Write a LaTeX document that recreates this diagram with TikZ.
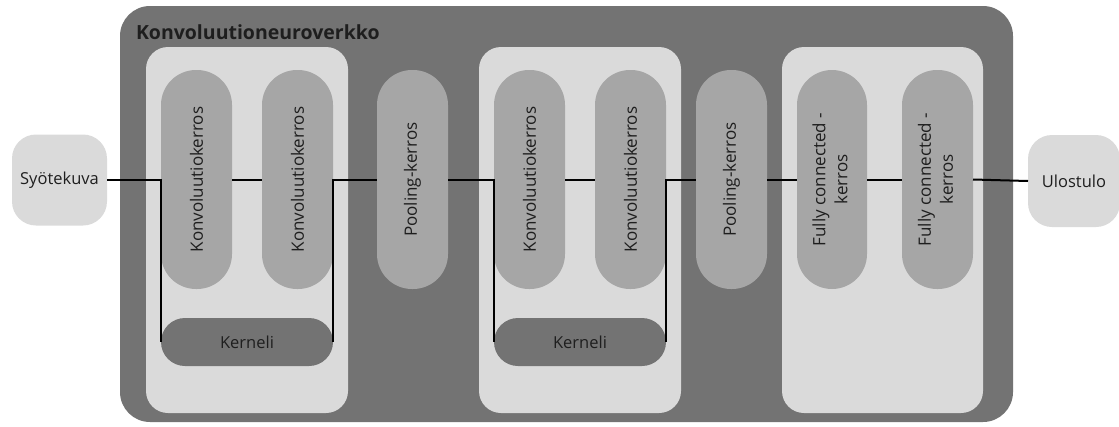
\documentclass[tikz,border=0pt]{standalone}
\usepackage{fontspec}
\setmainfont{Open Sans}
\begin{document}
\begin{tikzpicture}[x=1pt,y=-1pt,
  every node/.style={inner sep=0pt, outer sep=0pt, text=txt},
  layer/.style={fill=midgray, minimum width=71pt, minimum height=219pt,
    rounded corners=35pt, font=\fontsize{17}{22}\selectfont},
  kernbox/.style={fill=darkgray, minimum width=172pt, minimum height=48pt,
    rounded corners=24pt, font=\fontsize{16.5}{20}\selectfont},
  group/.style={fill=lightgray, minimum width=202pt, minimum height=366pt,
    rounded corners=22pt},
  endbox/.style={fill=lightgray, rounded corners=24pt,
    font=\fontsize{16.5}{20}\selectfont},
  link/.style={draw=black, line width=2pt}]
\definecolor{darkgray}{HTML}{737373}
\definecolor{lightgray}{HTML}{DADADA}
\definecolor{midgray}{HTML}{A6A6A6}
\definecolor{txt}{HTML}{1E1E1E}
\useasboundingbox (0,0) rectangle (1119,426);
% outer frame of the network
\fill[darkgray, rounded corners=30pt] (120,6) rectangle (1013,422);
\node[anchor=west, font=\fontsize{19.5}{22}\bfseries] (title) at (136,32) {Konvoluutioneuroverkko};
% grouping panels
\node[group] (g1) at (247,230) {};
\node[group] (g2) at (580,230) {};
\node[group, minimum width=201pt] (g3) at (882.5,230) {};
% input and output
\node[endbox, minimum width=95pt, minimum height=91pt] (inp) at (59.5,180) {Syötekuva};
\node[endbox, minimum width=92pt, minimum height=92pt] (out) at (1074,181) {Ulostulo};
% layers
\node[layer] (c1) at (196.5,179.5) {\rotatebox{90}{Konvoluutiokerros}};
\node[layer] (c2) at (297.5,179.5) {\rotatebox{90}{Konvoluutiokerros}};
\node[kernbox] (k1) at (247,342) {Kerneli};
\node[layer] (p1) at (412.5,179.5) {\rotatebox{90}{Pooling-kerros}};
\node[layer] (c3) at (529.5,179.5) {\rotatebox{90}{Konvoluutiokerros}};
\node[layer] (c4) at (630.5,179.5) {\rotatebox{90}{Konvoluutiokerros}};
\node[kernbox] (k2) at (580,342) {Kerneli};
\node[layer] (p2) at (731.5,179.5) {\rotatebox{90}{Pooling-kerros}};
\node[layer, minimum width=70pt] (f1) at (832,179.5) {\rotatebox{90}{\begin{tabular}{@{}c@{}}Fully connected -\\kerros\end{tabular}}};
\node[layer] (f2) at (937.5,179.5) {\rotatebox{90}{\begin{tabular}{@{}c@{}}Fully connected -\\kerros\end{tabular}}};
% connectors
\draw[link] (inp.east) -| (k1.west);
\draw[link] (c1.east) -- (c2.west);
\draw[link] (k1.east) |- (p1.west);
\draw[link] (p1.east) -| (k2.west);
\draw[link] (c3.east) -- (c4.west);
\draw[link] (k2.east) |- (p2.west);
\draw[link] (p2.east) -- (f1.west);
\draw[link] (f1.east) -- (f2.west);
\draw[link] (f2.east) -- (out.west);
\end{tikzpicture}
\end{document}
